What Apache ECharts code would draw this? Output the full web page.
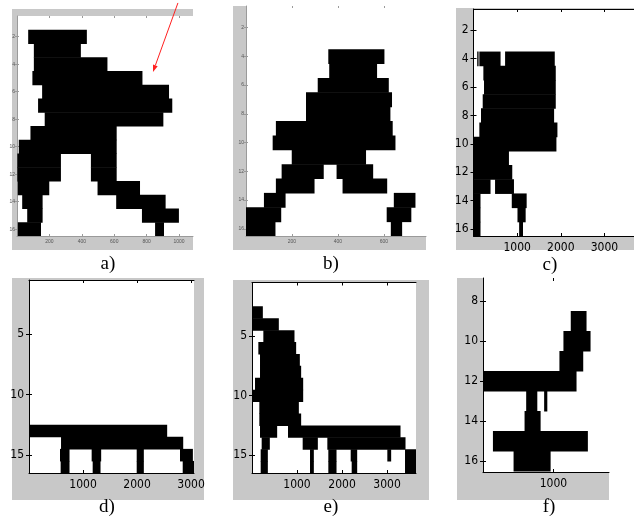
<!DOCTYPE html>
<html><head><meta charset="utf-8">
<script src="https://cdn.jsdelivr.net/npm/echarts@6/dist/echarts.min.js"></script>
<style>html,body{margin:0;padding:0;background:#fff}#c{width:634px;height:521px}</style>
</head><body><div id="c"></div><script>
// ---- data: [row, xStart, xEnd] black runs of each silhouette ----
const segA = [
 [2,69,428],[3,104,391],[4,104,555],[5,95,771],[6,155,935],[7,130,955],[8,171,900],
 [9,83,612],[10,11,612],[11,2,268],[11,456,612],[12,2,268],[12,456,612],
 [13,5,196],[13,497,756],[14,32,155],[14,612,914],[15,63,155],[15,771,996],
 [16,5,145],[16,852,904]
];
const segB = [
 [4,358,600],[5,362,568],[6,312,619],[7,261,633],[8,261,626],[9,130,636],[10,116,648],
 [11,199,520],[12,155,336],[12,394,551],[13,130,296],[13,420,612],
 [14,78,170],[14,643,735],[15,0,151],[15,612,717],[16,0,126],[16,630,677]
];
const segC = [
 [4,85,105],[4,134,609],[4,724,1851],[5,226,1874],[6,241,1874],[7,211,1874],[8,172,1836],
 [9,134,1912],[10,0,1889],[11,0,801],[12,0,877],[13,0,379],[13,494,916],
 [14,0,149],[14,877,1207],[15,0,149],[15,1008,1184],[16,0,149],[16,1046,1123]
];
const segD = [
 [13,0,2549],[14,593,2846],
 [15,574,741],[15,1160,1327],[15,1994,2117],[15,2796,3025],
 [16,586,741],[16,1179,1315],[16,1994,2117],[16,2846,3062]
];
const segE = [
 [3,0,230],[4,0,585],[5,252,933],[6,141,970],[7,178,1052],[8,178,1081],[9,67,1126],
 [10,0,1126],[11,163,1030],[12,163,1081],[13,178,548],[13,800,3289],
 [14,215,385],[14,1126,1452],[14,1674,3400],
 [15,193,341],[15,1289,1363],[15,1696,1867],[15,2193,2326],[15,3007,3081],[15,3400,3644],
 [16,193,341],[16,1289,1363],[16,1696,1867],[16,2215,2326],[16,3400,3644]
];
const segF = [
 [9,1246,1463],[10,1142,1520],[11,1085,1416],[12,0,1321],[13,613,764],[13,868,906],
 [14,590,811],[15,141,1482],[16,434,953]
];
// tick values
const xTicksA = [200,400,600,800,1000];
const xTicksB = [200,400,600];
const xTicksCDE = [1000,2000,3000];
const xTicksF = [1000];
const yTicksABC = [2,4,6,8,10,12,14,16];
const yTicksDE = [5,10,15];
const yTicksF = [8,10,12,14,16];
const panelLabels = ['a)','b)','c)','d)','e)','f)'];
// arrow annotation in panel a (data space)
const arrowA = [[993,-0.45],[839,4.57]];

// ---- layout / style ----
const panels = [
 {segs:segA, xt:xTicksA, yt:yTicksABC, xr:[0,1086], yr:[0.5,16.5], box:{left:17,top:16,width:176,height:220}, small:true,
  bg:[12,9,181,241], lbl:[108,264]},
 {segs:segB, xt:xTicksB, yt:yTicksABC, xr:[0,783], yr:[0.5,16.5], box:{left:246,top:6,width:180,height:230}, small:true,
  bg:[233,6,193,244], lbl:[331,264]},
 {segs:segC, xt:xTicksCDE, yt:yTicksABC, xr:[0,3690], yr:[0.5,16.5], box:{left:473.5,top:9,width:161,height:227}, small:false,
  bg:[456,8,178,242], lbl:[550,265]},
 {segs:segD, xt:xTicksCDE, yt:yTicksDE, xr:[0,3055], yr:[0.5,16.5], box:{left:29,top:280,width:165,height:193}, small:false,
  bg:[12,278,192,222], lbl:[107,507]},
 {segs:segE, xt:xTicksCDE, yt:yTicksDE, xr:[0,3644], yr:[0.5,16.5], box:{left:252,top:282.5,width:164,height:190.5}, small:false,
  bg:[233,280,196,220], lbl:[331,507]},
 {segs:segF, xt:xTicksF, yt:yTicksF, xr:[0,1789], yr:[6.85,16.55], box:{left:483,top:278,width:126,height:194}, small:false,
  bg:[457,278,152,222], lbl:[549,507]}
];

const grids = [], xAxes = [], yAxes = [], series = [], graphics = [];
const plain = v => String(v);
function renderSeg(params, api) {
  const r = api.value(0), x0 = api.value(1), x1 = api.value(2);
  const p0 = api.coord([x0, r - 0.5]);
  const p1 = api.coord([x1, r + 0.5]);
  const rect = echarts.graphic.clipRectByRect({
    x: Math.min(p0[0], p1[0]), y: Math.min(p0[1], p1[1]),
    width: Math.abs(p1[0] - p0[0]) + 0.5, height: Math.abs(p1[1] - p0[1]) + 0.5
  }, {x: params.coordSys.x, y: params.coordSys.y, width: params.coordSys.width, height: params.coordSys.height});
  if (!rect) return;
  return {type: 'rect', shape: rect, style: {fill: '#000'}};
}
panels.forEach((p, i) => {
  const lineCol = p.small ? '#9a9a9a' : '#000';
  const font = p.small
    ? {fontSize: 5, color: '#555', fontFamily: 'Liberation Sans'}
    : {fontSize: 12, color: '#000', fontFamily: "'Liberation Sans Narrow', 'Arial Narrow', 'DejaVu Sans Condensed', sans-serif"};
  const tickLen = p.small ? 2 : 3;
  grids.push(Object.assign({show: true, backgroundColor: '#fff', borderWidth: 0, outerBoundsMode: 'none', containLabel: false}, p.box));
  const common = {gridIndex: i, type: 'value', splitLine: {show: false}};
  xAxes.push(Object.assign({}, common, {position: 'bottom', min: p.xr[0], max: p.xr[1],
    axisLine: {show: true, onZero: false, lineStyle: {color: lineCol, width: 1}},
    axisTick: {show: true, inside: true, length: tickLen, customValues: p.xt, lineStyle: {color: lineCol}},
    axisLabel: Object.assign({show: true, customValues: p.xt, formatter: plain, margin: p.small ? 3 : 6}, font)}));
  xAxes.push(Object.assign({}, common, {position: 'top', min: p.xr[0], max: p.xr[1],
    axisLine: {show: !p.small && i !== 5, onZero: false, lineStyle: {color: lineCol, width: 1}},
    axisTick: {show: true, inside: true, length: tickLen, customValues: p.xt, lineStyle: {color: lineCol}},
    axisLabel: {show: false}}));
  yAxes.push(Object.assign({}, common, {position: 'left', inverse: true, min: p.yr[0], max: p.yr[1],
    axisLine: {show: true, onZero: false, lineStyle: {color: lineCol, width: 1}},
    axisTick: {show: true, inside: true, length: tickLen, customValues: p.yt, lineStyle: {color: lineCol}},
    axisLabel: Object.assign({show: true, customValues: p.yt, formatter: plain, margin: p.small ? 2 : 5}, font)}));
  yAxes.push(Object.assign({}, common, {position: 'right', inverse: true, min: p.yr[0], max: p.yr[1],
    axisLine: {show: false},
    axisTick: {show: true, inside: true, length: tickLen, customValues: p.yt, lineStyle: {color: lineCol}},
    axisLabel: {show: false}}));
  series.push({type: 'custom', xAxisIndex: 2 * i, yAxisIndex: 2 * i, renderItem: renderSeg,
    encode: {x: [1, 2], y: 0}, data: p.segs, clip: true, silent: true});
  graphics.push({type: 'rect', z: -10, shape: {x: p.bg[0], y: p.bg[1], width: p.bg[2], height: p.bg[3]},
    style: {fill: '#c8c8c8'}});
  graphics.push({type: 'text', x: p.lbl[0], y: p.lbl[1], style: {text: panelLabels[i], fill: '#000',
    font: '19px "Liberation Serif", "Times New Roman", serif', textAlign: 'center', textVerticalAlign: 'middle'}});
});

const chart = echarts.init(document.getElementById('c'), null, {renderer: 'canvas'});
chart.setOption({animation: false, backgroundColor: '#fff', grid: grids, xAxis: xAxes, yAxis: yAxes,
  series: series, graphic: graphics});

// arrow (drawn through panel a's scales)
const a0 = chart.convertToPixel({gridIndex: 0}, arrowA[0]);
const a1 = chart.convertToPixel({gridIndex: 0}, arrowA[1]);
const ang = Math.atan2(a1[1] - a0[1], a1[0] - a0[0]);
const hl = 7, hw = 2.5;
const bx = a1[0] - hl * Math.cos(ang), by = a1[1] - hl * Math.sin(ang);
const head = [[a1[0], a1[1]], [bx + hw * Math.sin(ang), by - hw * Math.cos(ang)], [bx - hw * Math.sin(ang), by + hw * Math.cos(ang)]];
chart.setOption({graphic: graphics.concat([
  {type: 'line', z: 100, shape: {x1: a0[0], y1: a0[1], x2: bx, y2: by}, style: {stroke: '#ff2020', lineWidth: 1}},
  {type: 'polygon', z: 100, shape: {points: head}, style: {fill: '#ff2020'}}
])}, {replaceMerge: ['graphic']});
</script></body></html>
